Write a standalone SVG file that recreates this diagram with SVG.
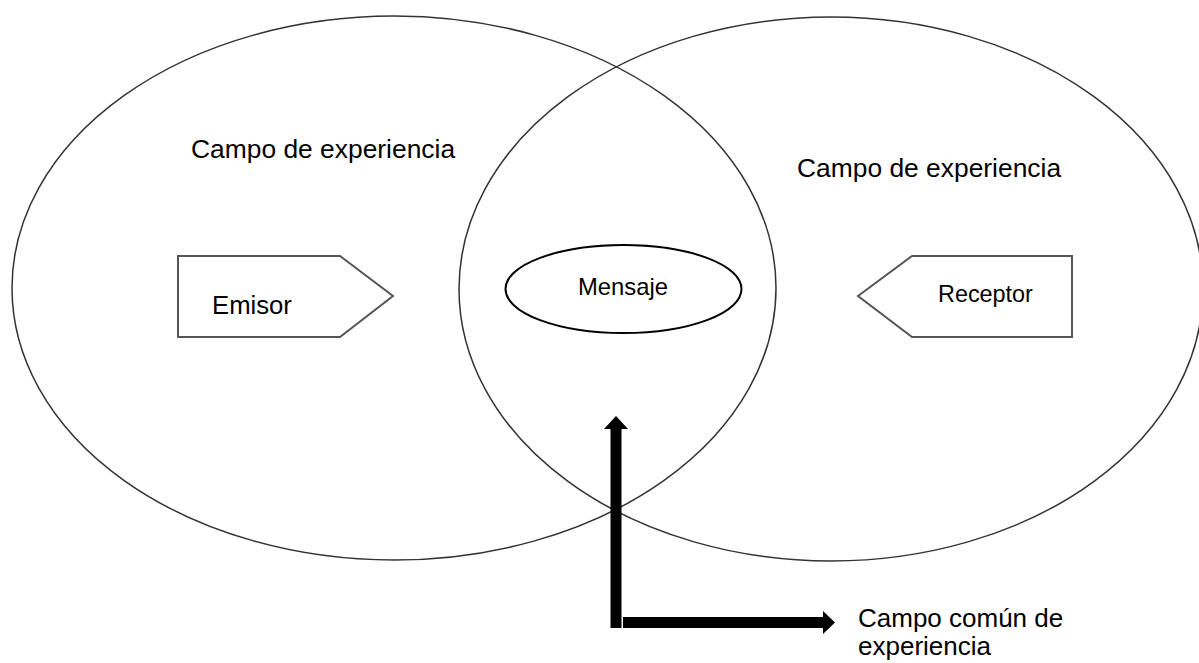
<svg xmlns="http://www.w3.org/2000/svg" width="1199" height="663" viewBox="0 0 1199 663">
<style>
.field{fill:none;stroke:#333;stroke-width:1.5}
.box{fill:#fff;stroke:#555;stroke-width:2}
.msg{fill:#fff;stroke:#000;stroke-width:2}
.t{font-family:"Liberation Sans",Arial,sans-serif;fill:#000}
.bar{stroke:#000;stroke-width:11;fill:none}
.head{fill:#000}
</style>
<rect width="1199" height="663" fill="#fff"/>
<g id="campo-emisor">
<ellipse class="field" cx="394" cy="288" rx="382" ry="272"/>
<text class="t" x="191" y="158" font-size="26.4">Campo de experiencia</text>
</g>
<g id="campo-receptor">
<ellipse class="field" cx="831" cy="289" rx="372" ry="272"/>
<text class="t" x="797" y="177" font-size="26.4">Campo de experiencia</text>
</g>
<g id="emisor">
<polygon class="box" points="178,256 340,256 393,296 340,337 178,337"/>
<text class="t" x="212" y="314" font-size="25.7">Emisor</text>
</g>
<g id="mensaje">
<ellipse class="msg" cx="623.5" cy="289" rx="118" ry="44"/>
<text class="t" x="578" y="295" font-size="23.8">Mensaje</text>
</g>
<g id="receptor">
<polygon class="box" points="858,296 912,256 1072,256 1072,337 912,337"/>
<text class="t" x="938" y="302" font-size="23.4">Receptor</text>
</g>
<g id="connectors">
<line class="bar" x1="616" y1="628" x2="616" y2="428"/>
<polygon class="head" points="604,429 616,416 628,429"/>
<line class="bar" x1="623" y1="622.5" x2="824" y2="622.5"/>
<polygon class="head" points="823,611 835,622.5 823,634"/>
</g>
<g id="campo-comun">
<text class="t" x="858" y="627" font-size="26">Campo común de</text>
<text class="t" x="858" y="655" font-size="26">experiencia</text>
</g>
</svg>
